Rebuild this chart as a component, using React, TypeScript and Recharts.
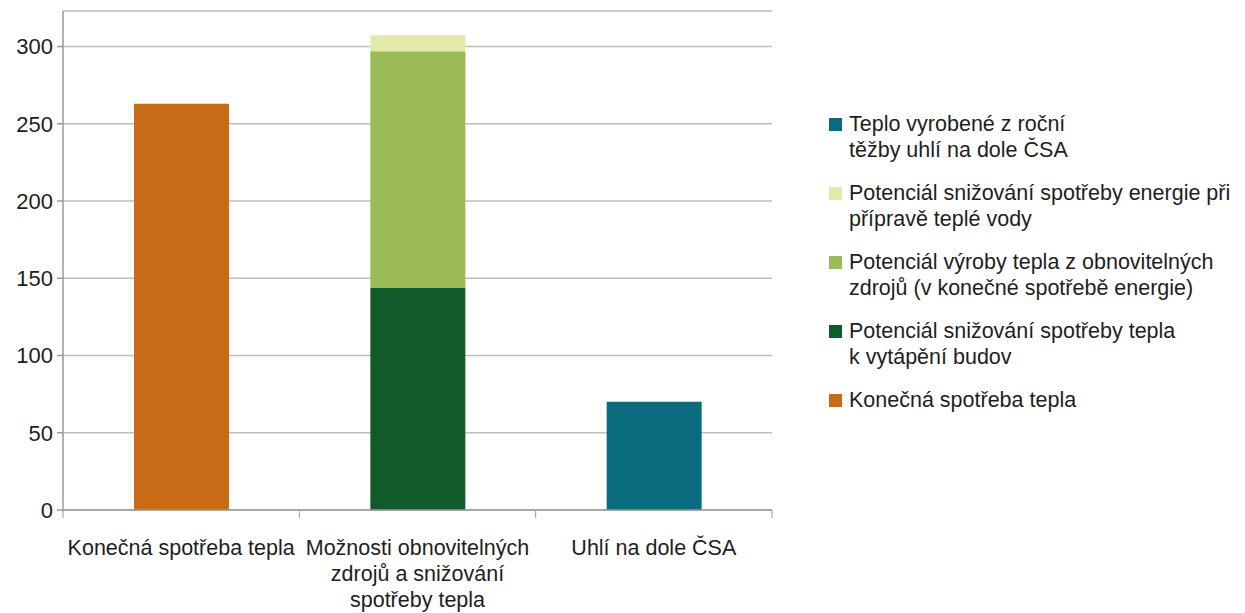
import React from "react";
import { BarChart, Bar, XAxis, YAxis, CartesianGrid } from "recharts";

const categories = [
  "Konečná spotřeba tepla",
  "Možnosti obnovitelných zdrojů a snižování spotřeby tepla",
  "Uhlí na dole ČSA",
];
const categoryLines = [
  ["Konečná spotřeba tepla"],
  ["Možnosti obnovitelných", "zdrojů a snižování", "spotřeby tepla"],
  ["Uhlí na dole ČSA"],
];

const konecnaSpotreba = [263, 0, 0];
const snizovaniVytapeni = [0, 144, 0];
const obnovitelneZdroje = [0, 153, 0];
const teplaVoda = [0, 10.3, 0];
const uhliCSA = [0, 0, 70];

const yTicks = [0, 50, 100, 150, 200, 250, 300];

const series = [
  { key: "konecna", name: ["Konečná spotřeba tepla"], color: "#C76C15", values: konecnaSpotreba },
  { key: "vytapeni", name: ["Potenciál snižování spotřeby tepla", "k vytápění budov"], color: "#115B2A", values: snizovaniVytapeni },
  { key: "obnovitelne", name: ["Potenciál výroby tepla z obnovitelných", "zdrojů (v konečné spotřebě energie)"], color: "#9BBB59", values: obnovitelneZdroje },
  { key: "voda", name: ["Potenciál snižování spotřeby energie při", "přípravě teplé vody"], color: "#E3E9AA", values: teplaVoda },
  { key: "uhli", name: ["Teplo vyrobené z roční", "těžby uhlí na dole ČSA"], color: "#0A6A7E", values: uhliCSA },
];

const data = categories.map((c, i) => {
  const row: Record<string, any> = { category: c };
  series.forEach((s) => {
    row[s.key] = s.values[i];
  });
  return row;
});

const CHART_W = 1237;
const CHART_H = 605;
const MARGIN = { top: 3, right: 473, left: 0, bottom: 0 };
const Y_W = 55;
const X_H = 103;
const PLOT_W = CHART_W - MARGIN.left - MARGIN.right - Y_W;
const BAND = PLOT_W / categories.length;
const FONT = "'Liberation Sans', Arial, sans-serif";
const AXIS_COLOR = "#9A9A9A";
const GRID_COLOR = "#BEBEBE";
const TEXT_COLOR = "#1E1E1E";

const XTick = (props: any) => {
  const { x, y, index } = props;
  const lines = categoryLines[index] || [];
  const left = x - BAND / 2;
  const right = x + BAND / 2;
  return (
    <g>
      <line x1={left} x2={left} y1={y} y2={y + 8} stroke={AXIS_COLOR} strokeWidth={1} />
      {index === categories.length - 1 && (
        <line x1={right} x2={right} y1={y} y2={y + 8} stroke={AXIS_COLOR} strokeWidth={1} />
      )}
      <text x={x} y={y + 45} textAnchor="middle" fontFamily={FONT} fontSize={21.5} fill={TEXT_COLOR}>
        {lines.map((l: string, i: number) => (
          <tspan key={i} x={x} dy={i === 0 ? 0 : 26}>
            {l}
          </tspan>
        ))}
      </text>
    </g>
  );
};

export default function App() {
  const legendItems = [...series].reverse();
  return (
    <div style={{ position: "relative", width: CHART_W, height: CHART_H }}>
      <BarChart width={CHART_W} height={CHART_H} data={data} margin={MARGIN} barSize={95}>
        <CartesianGrid horizontal={true} vertical={false} stroke={GRID_COLOR} strokeWidth={1.5} />
        <XAxis
          dataKey="category"
          height={X_H}
          stroke={AXIS_COLOR}
          strokeWidth={1.5}
          tickLine={false}
          tickSize={0}
          tickMargin={0}
          interval={0}
          tick={<XTick />}
        />
        <YAxis
          width={Y_W}
          domain={[0, 323]}
          ticks={yTicks}
          allowDataOverflow={true}
          stroke={AXIS_COLOR}
          strokeWidth={1.5}
          tickSize={6}
          tickMargin={4}
          tick={{ fontFamily: FONT, fontSize: 22, fill: TEXT_COLOR }}
        />
        {series.map((s) => (
          <Bar key={s.key} dataKey={s.key} stackId="a" fill={s.color} isAnimationActive={false} />
        ))}
      </BarChart>
      <div
        style={{
          position: "absolute",
          left: 821,
          top: 103,
          fontFamily: FONT,
          fontSize: 21.5,
          lineHeight: "26px",
          color: TEXT_COLOR,
          whiteSpace: "nowrap",
        }}
      >
        {legendItems.map((s) => (
          <div key={s.key} style={{ position: "relative", paddingLeft: 20, marginBottom: 17 }}>
            <span
              style={{
                position: "absolute",
                left: 0,
                top: 7,
                width: 13,
                height: 13,
                background: s.color,
              }}
            />
            {s.name.map((l, i) => (
              <div key={i}>{l}</div>
            ))}
          </div>
        ))}
      </div>
    </div>
  );
}
